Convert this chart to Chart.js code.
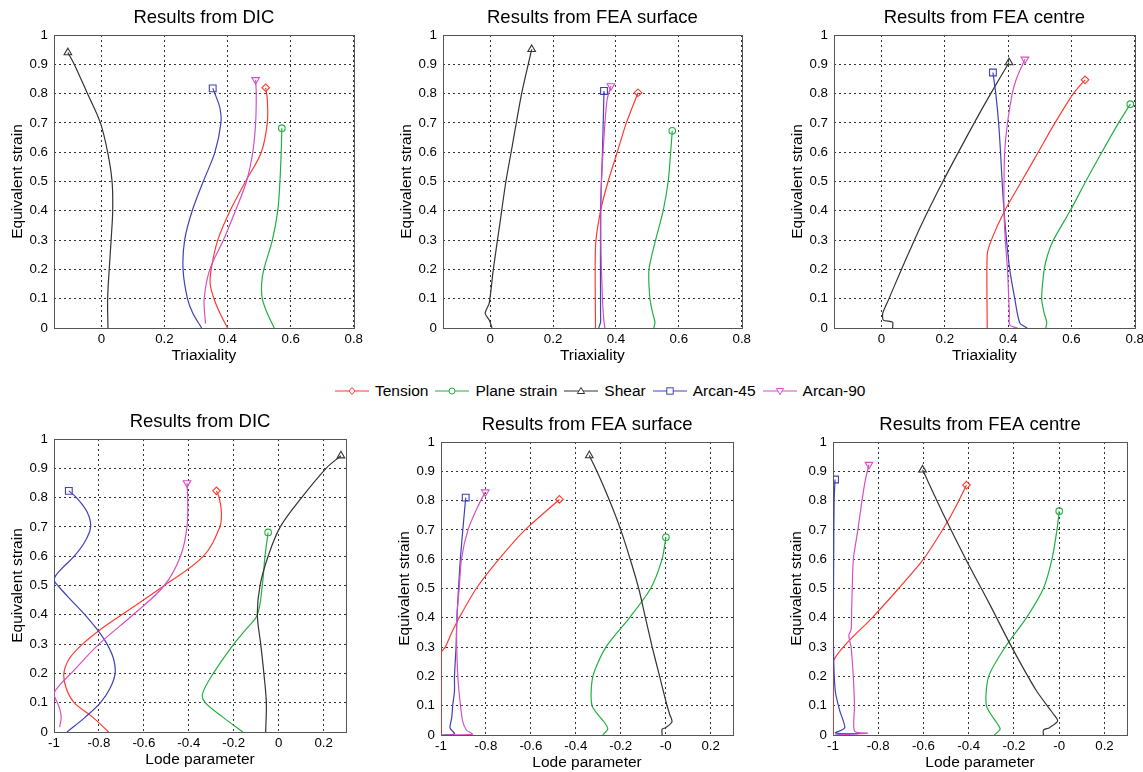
<!DOCTYPE html>
<html>
<head>
<meta charset="utf-8">
<script src="https://cdn.jsdelivr.net/npm/chart.js@4.4.1/dist/chart.umd.min.js"></script>
<style>
  html, body { margin: 0; padding: 0; background: #fff; width: 1143px; height: 772px; overflow: hidden;
               font-family: "Liberation Sans", Arial, sans-serif; }
  .panel { position: absolute; }
  #legend { position: absolute; left: 335px; top: 382px; height: 18px; display: flex; align-items: center;
            font-size: 15.5px; color: #000; white-space: nowrap; }
  .lg-item { display: flex; align-items: center; margin-right: 7px; }
  .lg-item svg { margin-right: 6px; }
</style>
</head>
<body>
<div id="legend"></div>
<script>
"use strict";

const $ = id => document.getElementById(id);

// ── Series (name, colour, end marker)
const seriesNames  = ["Tension", "Plane strain", "Shear", "Arcan-45", "Arcan-90"];
const seriesColors = ["#ff3b30", "#22b040", "#333333", "#4040b8", "#d64fc6"];
const seriesMarks  = ["rectRot", "circle", "triangle", "rect", "triangleDown"];

// ── Axis ticks
const strainTicks      = [0, 0.1, 0.2, 0.3, 0.4, 0.5, 0.6, 0.7, 0.8, 0.9, 1];
const strainLabels     = ["0", "0.1", "0.2", "0.3", "0.4", "0.5", "0.6", "0.7", "0.8", "0.9", "1"];
const triaxTicks       = [0, 0.2, 0.4, 0.6, 0.8];
const triaxLabels      = ["0", "0.2", "0.4", "0.6", "0.8"];
const lodeTicks        = [-1, -0.8, -0.6, -0.4, -0.2, 0, 0.2];
const lodeLabelsDic    = ["-1", "-0.8", "-0.6", "-0.4", "-0.2", "0", "0.2"];
const lodeLabelsFea    = ["-1", "-0.8", "-0.6", "-0.4", "-0.2", "-0", "0.2"];

// ── Triaxiality vs equivalent strain, [triaxiality, strain]
const triaxDicTension  = [[0.40,0],[0.376,0.05],[0.357,0.1],[0.345,0.15],[0.348,0.2],[0.369,0.3],[0.408,0.4],[0.457,0.5],[0.507,0.6],[0.526,0.7],[0.526,0.78],[0.521,0.82]];
const triaxDicPlane    = [[0.548,0],[0.526,0.05],[0.51,0.1],[0.508,0.15],[0.515,0.2],[0.542,0.3],[0.559,0.4],[0.566,0.5],[0.57,0.6],[0.572,0.682]];
const triaxDicShear    = [[0.021,0],[0.02,0.1],[0.025,0.2],[0.031,0.3],[0.036,0.4],[0.034,0.5],[0.02,0.6],[-0.003,0.7],[-0.044,0.8],[-0.086,0.9],[-0.106,0.94]];
const triaxDicArcan45  = [[0.318,0],[0.29,0.05],[0.273,0.1],[0.259,0.2],[0.264,0.3],[0.288,0.4],[0.323,0.5],[0.36,0.6],[0.379,0.7],[0.376,0.75],[0.36,0.8],[0.353,0.818]];
const triaxDicArcan90  = [[0.33,0.015],[0.326,0.1],[0.344,0.2],[0.387,0.3],[0.425,0.4],[0.46,0.5],[0.48,0.6],[0.489,0.7],[0.491,0.8],[0.489,0.847]];

const triaxSurfTension = [[0.335,0],[0.335,0.28],[0.351,0.4],[0.375,0.5],[0.404,0.6],[0.433,0.7],[0.47,0.803]];
const triaxSurfPlane   = [[0.52,0],[0.524,0.02],[0.517,0.05],[0.508,0.1],[0.505,0.2],[0.526,0.3],[0.55,0.4],[0.566,0.5],[0.574,0.6],[0.579,0.673]];
const triaxSurfShear   = [[0.006,0],[-0.003,0.027],[-0.016,0.05],[-0.003,0.085],[0.01,0.2],[0.03,0.35],[0.05,0.5],[0.07,0.62],[0.1,0.8],[0.132,0.951]];
const triaxSurfArcan45 = [[0.345,0],[0.351,0.02],[0.351,0.05],[0.351,0.4],[0.357,0.6],[0.362,0.809]];
const triaxSurfArcan90 = [[0.365,0],[0.362,0.02],[0.357,0.1],[0.352,0.3],[0.354,0.5],[0.365,0.7],[0.372,0.78],[0.384,0.826]];

const triaxCentreTension = [[0.334,0],[0.334,0.25],[0.347,0.3],[0.389,0.4],[0.442,0.5],[0.495,0.6],[0.548,0.7],[0.606,0.8],[0.643,0.847]];
const triaxCentrePlane   = [[0.519,0],[0.522,0.02],[0.514,0.05],[0.506,0.1],[0.514,0.2],[0.525,0.25],[0.543,0.3],[0.596,0.4],[0.645,0.5],[0.696,0.6],[0.749,0.7],[0.786,0.764]];
const triaxCentreShear   = [[0.035,0],[0.035,0.02],[0.006,0.027],[0.004,0.05],[0.022,0.096],[0.063,0.2],[0.125,0.35],[0.194,0.5],[0.293,0.7],[0.345,0.8],[0.403,0.906]];
const triaxCentreArcan45 = [[0.46,0],[0.437,0.017],[0.421,0.1],[0.405,0.2],[0.395,0.3],[0.387,0.4],[0.381,0.5],[0.376,0.6],[0.37,0.7],[0.361,0.8],[0.352,0.872]];
const triaxCentreArcan90 = [[0.43,0],[0.405,0.01],[0.404,0.05],[0.402,0.1],[0.398,0.2],[0.391,0.3],[0.387,0.4],[0.387,0.5],[0.389,0.6],[0.398,0.7],[0.413,0.8],[0.426,0.85],[0.453,0.917]];

// ── Lode parameter vs equivalent strain, [lode, strain]
const lodeDicTension  = [[-0.757,0],[-0.827,0.05],[-0.91,0.1],[-0.946,0.15],[-0.956,0.2],[-0.932,0.25],[-0.873,0.3],[-0.793,0.35],[-0.699,0.4],[-0.509,0.5],[-0.335,0.6],[-0.262,0.7],[-0.255,0.75],[-0.265,0.8],[-0.277,0.823]];
const lodeDicPlane    = [[-0.16,0],[-0.247,0.05],[-0.327,0.1],[-0.339,0.13],[-0.291,0.2],[-0.2,0.3],[-0.146,0.35],[-0.095,0.4],[-0.073,0.5],[-0.061,0.6],[-0.047,0.681]];
const lodeDicShear    = [[-0.058,0],[-0.055,0.1],[-0.066,0.2],[-0.08,0.3],[-0.095,0.4],[-0.083,0.5],[-0.047,0.6],[0.007,0.7],[0.102,0.8],[0.211,0.9],[0.277,0.943]];
const lodeDicArcan45  = [[-0.942,0],[-0.862,0.05],[-0.793,0.1],[-0.75,0.15],[-0.728,0.2],[-0.735,0.25],[-0.764,0.3],[-0.808,0.35],[-0.862,0.4],[-0.924,0.45],[-0.983,0.5],[-1.0,0.52],[-0.975,0.55],[-0.91,0.6],[-0.862,0.65],[-0.837,0.7],[-0.852,0.75],[-0.9,0.8],[-0.934,0.823]];
const lodeDicArcan90  = [[-0.975,0.017],[-0.968,0.05],[-0.975,0.08],[-0.985,0.1],[-1.0,0.13],[-0.975,0.16],[-0.924,0.2],[-0.8,0.3],[-0.648,0.4],[-0.509,0.5],[-0.437,0.6],[-0.408,0.7],[-0.405,0.8],[-0.408,0.85]];

const lodeSurfTension = [[-1,0],[-1,0.28],[-0.981,0.3],[-0.952,0.35],[-0.919,0.4],[-0.843,0.5],[-0.742,0.6],[-0.626,0.7],[-0.473,0.804]];
const lodeSurfPlane   = [[-0.28,0],[-0.258,0.02],[-0.27,0.04],[-0.328,0.1],[-0.324,0.2],[-0.266,0.3],[-0.161,0.4],[-0.067,0.5],[-0.016,0.6],[0.001,0.675]];
const lodeSurfShear   = [[-0.016,0],[-0.016,0.02],[0,0.025],[0.028,0.045],[0.018,0.07],[0.006,0.1],[-0.027,0.2],[-0.06,0.3],[-0.09,0.4],[-0.12,0.5],[-0.158,0.6],[-0.2,0.7],[-0.25,0.8],[-0.306,0.9],[-0.34,0.954]];
const lodeSurfArcan45 = [[-0.995,0],[-0.94,0.004],[-0.96,0.024],[-0.952,0.06],[-0.948,0.1],[-0.94,0.15],[-0.94,0.2],[-0.933,0.3],[-0.929,0.4],[-0.922,0.5],[-0.914,0.6],[-0.903,0.7],[-0.89,0.81]];
const lodeSurfArcan90 = [[-0.99,0],[-0.86,0.002],[-0.887,0.017],[-0.904,0.048],[-0.913,0.1],[-0.92,0.15],[-0.925,0.2],[-0.93,0.3],[-0.93,0.4],[-0.919,0.5],[-0.909,0.6],[-0.88,0.7],[-0.836,0.78],[-0.803,0.829]];

const lodeCentreTension = [[-1,0],[-1,0.247],[-0.943,0.31],[-0.827,0.4],[-0.71,0.5],[-0.6,0.6],[-0.5,0.72],[-0.45,0.79],[-0.41,0.853]];
const lodeCentrePlane   = [[-0.287,0],[-0.261,0.02],[-0.275,0.04],[-0.322,0.1],[-0.312,0.2],[-0.239,0.3],[-0.145,0.4],[-0.07,0.5],[-0.032,0.6],[-0.01,0.7],[0.0,0.764]];
const lodeCentreShear   = [[-0.07,0],[-0.07,0.017],[-0.043,0.025],[-0.007,0.048],[-0.03,0.076],[-0.1,0.15],[-0.21,0.3],[-0.31,0.45],[-0.413,0.6],[-0.51,0.75],[-0.604,0.905]];
const lodeCentreArcan45 = [[-0.99,0],[-0.88,0.005],[-0.99,0.007],[-0.948,0.024],[-0.97,0.082],[-0.99,0.15],[-0.998,0.3],[-0.997,0.6],[-0.995,0.8],[-0.991,0.872]];
const lodeCentreArcan90 = [[-0.97,0.002],[-0.848,0.006],[-0.905,0.014],[-0.905,0.1],[-0.91,0.195],[-0.92,0.3],[-0.93,0.34],[-0.92,0.36],[-0.918,0.41],[-0.915,0.5],[-0.91,0.6],[-0.89,0.7],[-0.872,0.8],[-0.857,0.87],[-0.841,0.923]];

// ── Panels
const FONT = '"Liberation Sans", Arial, sans-serif';
const panels = [
  { title: "Results from DIC",         xTitle: "Triaxiality",    min: -0.15, max: 0.8, ticks: triaxTicks, labels: triaxLabels,
    series: [triaxDicTension, triaxDicPlane, triaxDicShear, triaxDicArcan45, triaxDicArcan90],
    box: { left: 0,   top: 0,   w: 366, h: 370 }, tension: 0.35 },
  { title: "Results from FEA surface", xTitle: "Triaxiality",    min: -0.15, max: 0.8, ticks: triaxTicks, labels: triaxLabels,
    series: [triaxSurfTension, triaxSurfPlane, triaxSurfShear, triaxSurfArcan45, triaxSurfArcan90],
    box: { left: 389, top: 0,   w: 365, h: 370 }, tension: 0.25 },
  { title: "Results from FEA centre",  xTitle: "Triaxiality",    min: -0.15, max: 0.8, ticks: triaxTicks, labels: triaxLabels,
    series: [triaxCentreTension, triaxCentrePlane, triaxCentreShear, triaxCentreArcan45, triaxCentreArcan90],
    box: { left: 780, top: 0,   w: 367, h: 370 }, tension: 0.25 },
  { title: "Results from DIC",         xTitle: "Lode parameter", min: -1, max: 0.3, ticks: lodeTicks, labels: lodeLabelsDic,
    series: [lodeDicTension, lodeDicPlane, lodeDicShear, lodeDicArcan45, lodeDicArcan90],
    box: { left: 0,   top: 404, w: 352, h: 370 }, tension: 0.35 },
  { title: "Results from FEA surface", xTitle: "Lode parameter", min: -1, max: 0.3, ticks: lodeTicks, labels: lodeLabelsFea,
    series: [lodeSurfTension, lodeSurfPlane, lodeSurfShear, lodeSurfArcan45, lodeSurfArcan90],
    box: { left: 387, top: 407, w: 352, h: 370 }, tension: 0.25 },
  { title: "Results from FEA centre",  xTitle: "Lode parameter", min: -1, max: 0.3, ticks: lodeTicks, labels: lodeLabelsFea,
    series: [lodeCentreTension, lodeCentrePlane, lodeCentreShear, lodeCentreArcan45, lodeCentreArcan90],
    box: { left: 779, top: 407, w: 354, h: 370 }, tension: 0.25 },
];

const markRadius = { rectRot: 3.8, circle: 3.3, triangle: 4.4, rect: 4.8, triangleDown: 4.4 };

// ── Solid axes box (MATLAB "box on")
const boxPlugin = {
  id: "axbox",
  beforeDatasetsDraw(chart) {
    const { ctx, chartArea: a } = chart;
    const l = Math.round(a.left) + 0.5, t = Math.round(a.top) + 0.5;
    const r = Math.round(a.right) + 0.5, b = Math.round(a.bottom) + 0.5;
    ctx.save();
    ctx.strokeStyle = "#555";
    ctx.lineWidth = 1;
    ctx.setLineDash([]);
    ctx.strokeRect(l, t, r - l, b - t);
    ctx.restore();
  },
};

function makeDataset(pts, i, tension) {
  const mark = seriesMarks[i];
  const n = pts.length;
  return {
    label: seriesNames[i],
    data: pts.map(([x, y]) => ({ x, y })),
    showLine: true,
    borderColor: seriesColors[i],
    backgroundColor: "rgba(0,0,0,0)",
    borderWidth: 1.2,
    tension,
    pointStyle: mark === "triangleDown" ? "triangle" : mark,
    pointRotation: mark === "triangleDown" ? 180 : 0,
    pointRadius: ctx => ctx.dataIndex === n - 1 ? markRadius[mark] : 0,
    pointHoverRadius: 0,
    pointBorderWidth: 1.1,
    pointBorderColor: seriesColors[i],
    pointBackgroundColor: "rgba(0,0,0,0)",
    order: 5 - i,
  };
}

function makePanel(p) {
  const div = document.createElement("div");
  div.className = "panel";
  Object.assign(div.style, { left: p.box.left + "px", top: p.box.top + "px", width: p.box.w + "px", height: p.box.h + "px" });
  const cv = document.createElement("canvas");
  cv.width = p.box.w; cv.height = p.box.h;
  div.appendChild(cv);
  document.body.appendChild(div);

  new Chart(cv.getContext("2d"), {
    type: "scatter",
    data: { datasets: p.series.map((s, i) => makeDataset(s, i, p.tension)) },
    options: {
      responsive: false, animation: false, events: [],
      layout: { padding: 0 },
      plugins: {
        legend: { display: false }, tooltip: { enabled: false },
        title: { display: true, text: p.title, color: "#000", fullSize: false,
                 font: { family: FONT, size: 18.5, weight: "normal" }, padding: { top: 6.7, bottom: 6.1 } },
      },
      scales: {
        x: {
          type: "linear", min: p.min, max: p.max,
          afterBuildTicks: s => { s.ticks = p.ticks.map(v => ({ value: v })); },
          afterFit: s => { s.height = 42; },
          ticks: { color: "#000", font: { family: FONT, size: 13.3 }, padding: 3, autoSkip: false, maxRotation: 0,
                   callback: (v, i) => p.labels[i] },
          grid: { color: "#333", lineWidth: 1, drawTicks: false },
          border: { display: false, dash: [2, 3] },
          title: { display: true, text: p.xTitle, color: "#000", font: { family: FONT, size: 15.5 }, padding: { top: 0, bottom: 4.7 } },
        },
        y: {
          type: "linear", min: 0, max: 1,
          afterBuildTicks: s => { s.ticks = strainTicks.map(v => ({ value: v })); },
          afterFit: s => { s.width = 54; },
          ticks: { color: "#000", font: { family: FONT, size: 13.3 }, padding: 6, autoSkip: false,
                   callback: (v, i) => strainLabels[i] },
          grid: { color: "#333", lineWidth: 1, drawTicks: false },
          border: { display: false, dash: [2, 3] },
          title: { display: true, text: "Equivalent strain", color: "#000", font: { family: FONT, size: 15.5 }, padding: { top: 8.7, bottom: 0 } },
        },
      },
    },
    plugins: [boxPlugin],
  });
}

// ── Legend (line + hollow marker)
function markerSvg(mark, c) {
  const cx = 17, cy = 6;
  if (mark === "rectRot")  return `<polygon points="${cx},${cy-3.6} ${cx+3},${cy} ${cx},${cy+3.6} ${cx-3},${cy}" fill="#fff" stroke="${c}"/>`;
  if (mark === "circle")   return `<circle cx="${cx}" cy="${cy}" r="3" fill="#fff" stroke="${c}"/>`;
  if (mark === "triangle") return `<polygon points="${cx},${cy-3.5} ${cx+3.6},${cy+2.5} ${cx-3.6},${cy+2.5}" fill="#fff" stroke="${c}"/>`;
  if (mark === "rect")     return `<rect x="${cx-3.2}" y="${cy-3.2}" width="6.4" height="6.4" fill="#fff" stroke="${c}"/>`;
  return `<polygon points="${cx},${cy+3.5} ${cx+3.6},${cy-2.5} ${cx-3.6},${cy-2.5}" fill="#fff" stroke="${c}"/>`;
}

seriesNames.forEach((name, i) => {
  const c = seriesColors[i];
  const item = document.createElement("div");
  item.className = "lg-item";
  item.innerHTML = `<svg width="34" height="12"><line x1="0" y1="6" x2="34" y2="6" stroke="${c}" stroke-width="1.2"/>${markerSvg(seriesMarks[i], c)}</svg><span>${name}</span>`;
  $("legend").appendChild(item);
});

// ── Boot
panels.forEach(makePanel);
</script>
</body>
</html>
